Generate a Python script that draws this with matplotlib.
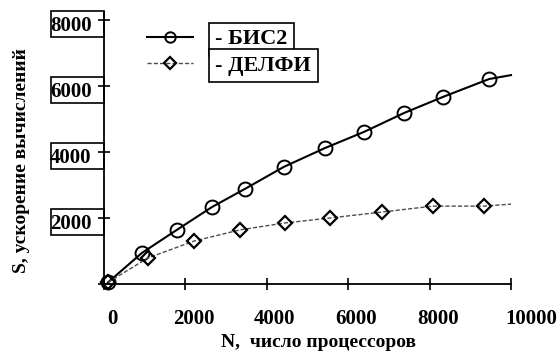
import numpy as np
import matplotlib
matplotlib.use("Agg")
import matplotlib.pyplot as plt
from matplotlib.patches import Rectangle
from matplotlib.transforms import ScaledTranslation, blended_transform_factory

# data
bis2_n = [100, 930, 1790, 2650, 3460, 4420, 5430, 6390, 7370, 8330, 9460]
bis2_s = [50, 940, 1640, 2330, 2880, 3550, 4120, 4610, 5180, 5670, 6210]
bis2_end = (10000, 6330)

delfi_n = [100, 1080, 2210, 3340, 4450, 5550, 6830, 8080, 9340]
delfi_s = [50, 790, 1300, 1640, 1850, 2000, 2180, 2360, 2360]
delfi_end = (10000, 2420)

x_ticks = [0, 2000, 4000, 6000, 8000, 10000]
y_ticks = [0, 2000, 4000, 6000, 8000]
y_labels = ['', '2000', '4000', '6000', '8000']

xlabel = 'N,  число процессоров'
ylabel = 'S, ускорение вычислений'
names = ['- БИС2', '- ДЕЛФИ']

plt.rcParams['font.family'] = ['Liberation Serif', 'DejaVu Serif']
plt.rcParams['font.weight'] = 'bold'
fs = 14
tfs = 15
lfs = 16

fig = plt.figure(figsize=(5.57, 3.55), dpi=100)
ax = fig.add_axes([104/557, 71/355, 407/557, 272/355])

l1, = ax.plot(bis2_n + [bis2_end[0]], bis2_s + [bis2_end[1]], color='black', lw=1.5,
              marker='o', ms=10, mfc='none', mec='black', mew=1.4,
              markevery=list(range(len(bis2_n))), clip_on=False)
l2, = ax.plot(delfi_n + [delfi_end[0]], delfi_s + [delfi_end[1]], color='0.3', lw=1.0,
              ls=(0, (3, 1.5)), marker='D', ms=7.5, mfc='none', mec='black', mew=1.6,
              markevery=list(range(len(delfi_n))), clip_on=False)

ax.set_xlim(0, 10000)
ax.set_ylim(0, 8242)
for s in ['top', 'right']:
    ax.spines[s].set_visible(False)
for s in ['left', 'bottom']:
    ax.spines[s].set_linewidth(1.3)

ax.set_xticks(x_ticks)
ax.set_xticklabels([str(v) for v in x_ticks], fontsize=tfs, fontweight='bold')
ax.set_yticks(y_ticks)
ax.set_yticklabels(y_labels, fontsize=tfs, fontweight='bold')
ax.tick_params(axis='x', direction='inout', length=8, width=1.2, pad=14)
ax.tick_params(axis='y', direction='inout', length=8, width=1.2, pad=5.0)

dpi = fig.dpi
for lab, v in zip(ax.get_xticklabels(), x_ticks):
    dx = 20 if v == 10000 else 8
    lab.set_transform(lab.get_transform() + ScaledTranslation(dx/dpi, 0, fig.dpi_scale_trans))
for lab in ax.get_yticklabels():
    lab.set_transform(lab.get_transform() + ScaledTranslation(0, -4/dpi, fig.dpi_scale_trans))

# boxes round the y tick labels
btr = blended_transform_factory(ax.transAxes, ax.transData)
for v, t in zip(y_ticks, y_labels):
    if t:
        ax.add_patch(Rectangle((-0.130, v - 520), 0.130, 790, transform=btr,
                               fill=False, ec='black', lw=1.2, clip_on=False))

ax.set_xlabel(xlabel, fontsize=fs, fontweight='bold')
ax.xaxis.set_label_coords(0.526, -0.184)
ax.set_ylabel(ylabel, fontsize=fs, fontweight='bold')
ax.yaxis.label.set_va('center')
ax.yaxis.set_label_coords(-0.2015, 0.452)

leg = ax.legend([l1, l2], names, loc='upper left', bbox_to_anchor=(0.1057, 0.938),
                frameon=False, borderpad=0, borderaxespad=0, handlelength=2.07,
                handletextpad=1.0, labelspacing=0.25, markerscale=0.75,
                prop={'weight': 'bold', 'size': lfs})
for t in leg.get_texts():
    t.set_bbox(dict(boxstyle='square,pad=0.3', fc='white', ec='black', lw=1.2))

fig.savefig('out.png', dpi=100)
